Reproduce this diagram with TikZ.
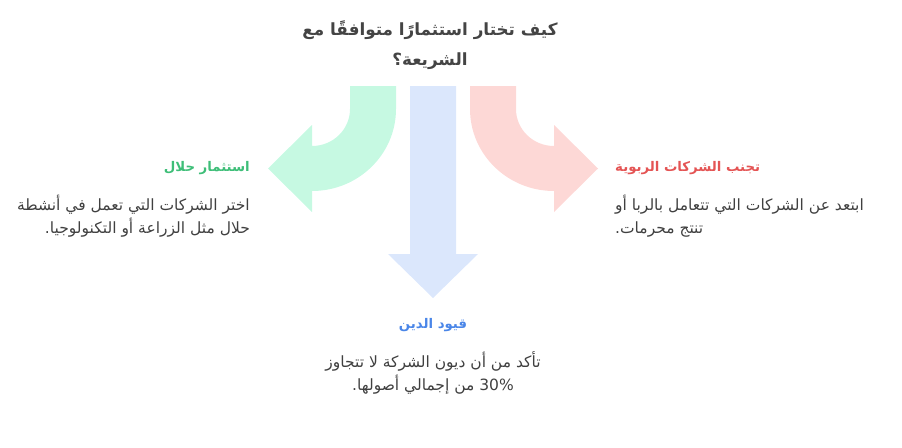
\documentclass[tikz,border=0pt]{standalone}
\usepackage{fontspec}
\TeXXeTstate=1
\newfontfamily\arabicfont[Script=Arabic]{DejaVu Sans}
\definecolor{greenfill}{RGB}{198,249,226}
\definecolor{bluefill}{RGB}{219,231,252}
\definecolor{redfill}{RGB}{253,216,214}
\definecolor{greentxt}{RGB}{62,190,120}
\definecolor{bluetxt}{RGB}{74,134,232}
\definecolor{redtxt}{RGB}{228,84,84}
\definecolor{bodytxt}{RGB}{64,64,64}
\definecolor{titletxt}{RGB}{68,68,68}
\tikzset{
  titletext/.style={font=\arabicfont\bfseries\fontsize{16.8}{30}\selectfont, text=titletxt, align=center, inner sep=0pt},
  labeltext/.style={font=\arabicfont\bfseries\fontsize{13.3}{16}\selectfont, inner sep=0pt},
  bodytext/.style={font=\arabicfont\fontsize{15.5}{22.5}\selectfont, text=bodytxt, inner sep=0pt}
}
\begin{document}
\begin{tikzpicture}[x=1pt,y=-1pt]
\useasboundingbox (0,0) rectangle (902,447);
% green arrow
\fill[greenfill] (350,86) -- (350,109) arc[start angle=0,end angle=90,x radius=38,y radius=37]
  -- (312,125) -- (268,168.5) -- (312,212) -- (312,191)
  arc[start angle=90,end angle=0,x radius=84,y radius=82] -- (396,86) -- cycle;
% red arrow
\fill[redfill] (516,86) -- (516,109) arc[start angle=180,end angle=90,x radius=38,y radius=37]
  -- (554,125) -- (598,168.5) -- (554,212) -- (554,191)
  arc[start angle=90,end angle=180,x radius=84,y radius=82] -- (470,86) -- cycle;
% blue arrow
\fill[bluefill] (410,86) -- (410,254) -- (388,254) -- (433,298) -- (478,254) -- (456,254) -- (456,86) -- cycle;
% title
\node[titletext] (title) at (430,45) {\beginR كيف تختار استثمارًا متوافقًا مع\endR\\\beginR الشريعة؟\endR};
% left
\node[labeltext, text=greentxt, anchor=east] (lhead) at (250,168) {\beginR استثمار حلال\endR};
\node[bodytext, align=right, anchor=east] (lbody) at (250,216) {\beginR اختر الشركات التي تعمل في أنشطة\endR\\\beginR حلال مثل الزراعة أو التكنولوجيا.\endR};
% right
\node[labeltext, text=redtxt, anchor=west] (rhead) at (615,168) {\beginR تجنب الشركات الربوية\endR};
\node[bodytext, align=left, anchor=west] (rbody) at (615,216) {\beginR ابتعد عن الشركات التي تتعامل بالربا أو\endR\\\beginR تنتج محرمات.\endR};
% bottom
\node[labeltext, text=bluetxt] (bhead) at (433,325) {\beginR قيود الدين\endR};
\node[bodytext, align=center] (bbody) at (433,373) {\beginR تأكد من أن ديون الشركة لا تتجاوز\endR\\\beginR \beginL 30\%\endL\ من إجمالي أصولها.\endR};
\end{tikzpicture}
\end{document}
